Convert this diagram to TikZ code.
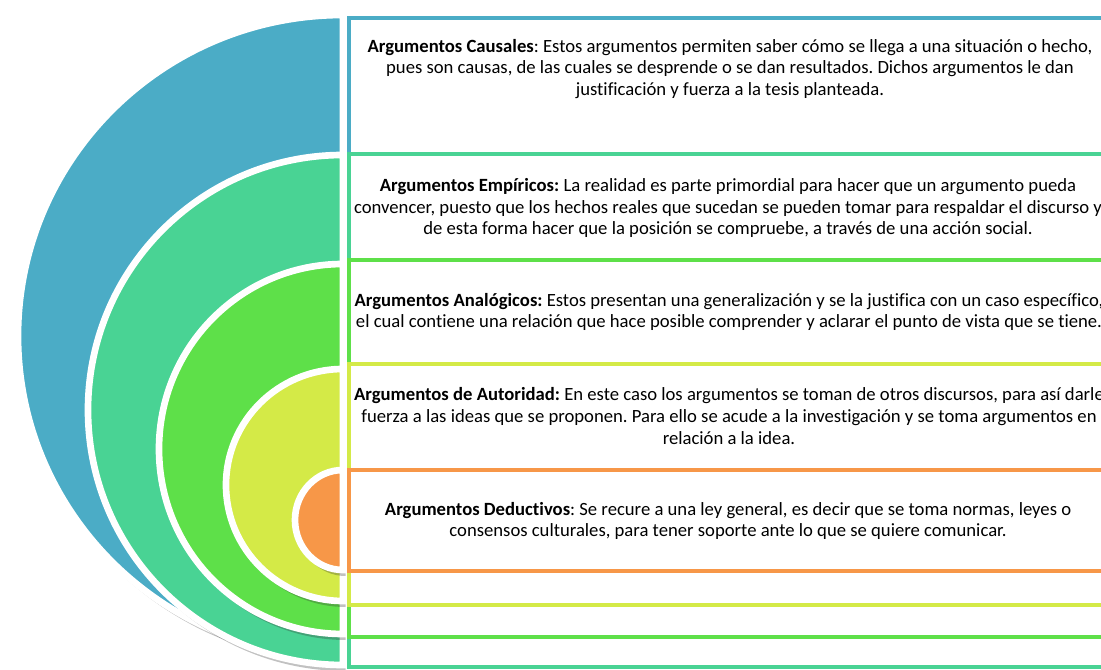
\documentclass[tikz,border=0pt]{standalone}
\usepackage{fontspec}
\setmainfont{Carlito}[Ligatures=NoCommon]
\usetikzlibrary{shadows}

\definecolor{cblue}{RGB}{75,172,198}
\definecolor{cteal}{RGB}{73,211,148}
\definecolor{cgreen}{RGB}{94,224,73}
\definecolor{cyellow}{RGB}{212,234,71}
\definecolor{corange}{RGB}{247,151,72}

\begin{document}
\frenchspacing
\begin{tikzpicture}[x=0.75pt,y=-0.75pt]
  \tikzstyle{half}=[draw=white,line width=5pt,
                    drop shadow={opacity=0.3,fill=black!80,shadow xshift=2pt,shadow yshift=-4.5pt}]
  \tikzstyle{frame}=[fill=white,line width=3.5pt]
  \tikzstyle{info}=[align=center,text=black,font=\fontsize{14}{16.3}\selectfont]

  \useasboundingbox (0,0) rectangle (1101,670);
  \clip (0,0) rectangle (1101,670);

  % half rings, outer to inner
  \path[half,fill=cblue]   (343,15)  arc[start angle=-90,end angle=-270,x radius=325,y radius=321] -- cycle;
  \draw[frame,draw=cblue]  (349,18)  rectangle (1120,667);
  \path[half,fill=cteal]   (343,155) arc[start angle=-90,end angle=-270,x radius=255,y radius=255] -- cycle;
  \draw[frame,draw=cteal]  (349,154) rectangle (1120,667);
  \path[half,fill=cgreen]  (343,264) arc[start angle=-90,end angle=-270,x radius=184,y radius=185] -- cycle;
  \draw[frame,draw=cgreen] (349,260) rectangle (1120,637);
  \path[half,fill=cyellow] (343,369) arc[start angle=-90,end angle=-270,x radius=117,y radius=116] -- cycle;
  \draw[frame,draw=cyellow] (349,364) rectangle (1120,605);
  \path[half,fill=corange] (343,470) arc[start angle=-90,end angle=-270,x radius=48,y radius=50] -- cycle;
  \draw[frame,draw=corange] (349,470) rectangle (1120,571);

  \node[info] (A) at (730,69)  {\textbf{Argumentos Causales}: Estos argumentos permiten saber cómo se llega a una situación o hecho,\\
    pues son causas, de las cuales se desprende o se dan resultados. Dichos argumentos le dan\\
    justificación y fuerza a la tesis planteada.};
  \node[info] (B) at (728,208) {\textbf{Argumentos Empíricos:} La realidad es parte primordial para hacer que un argumento pueda\\
    convencer, puesto que los hechos reales que sucedan se pueden tomar para respaldar el discurso y\\
    de esta forma hacer que la posición se compruebe, a través de una acción social.};
  \node[info] (C) at (729,312) {\textbf{Argumentos Analógicos:} Estos presentan una generalización y se la justifica con un caso específico,\\
    el cual contiene una relación que hace posible comprender y aclarar el punto de vista que se tiene.};
  \node[info] (D) at (729,416) {\textbf{Argumentos de Autoridad:} En este caso los argumentos se toman de otros discursos, para así darle\\
    fuerza a las ideas que se proponen. Para ello se acude a la investigación y se toma argumentos en\\
    relación a la idea.};
  \node[info] (E) at (728,521) {\textbf{Argumentos Deductivos}: Se recure a una ley general, es decir que se toma normas, leyes o\\
    consensos culturales, para tener soporte ante lo que se quiere comunicar.};
\end{tikzpicture}
\end{document}
